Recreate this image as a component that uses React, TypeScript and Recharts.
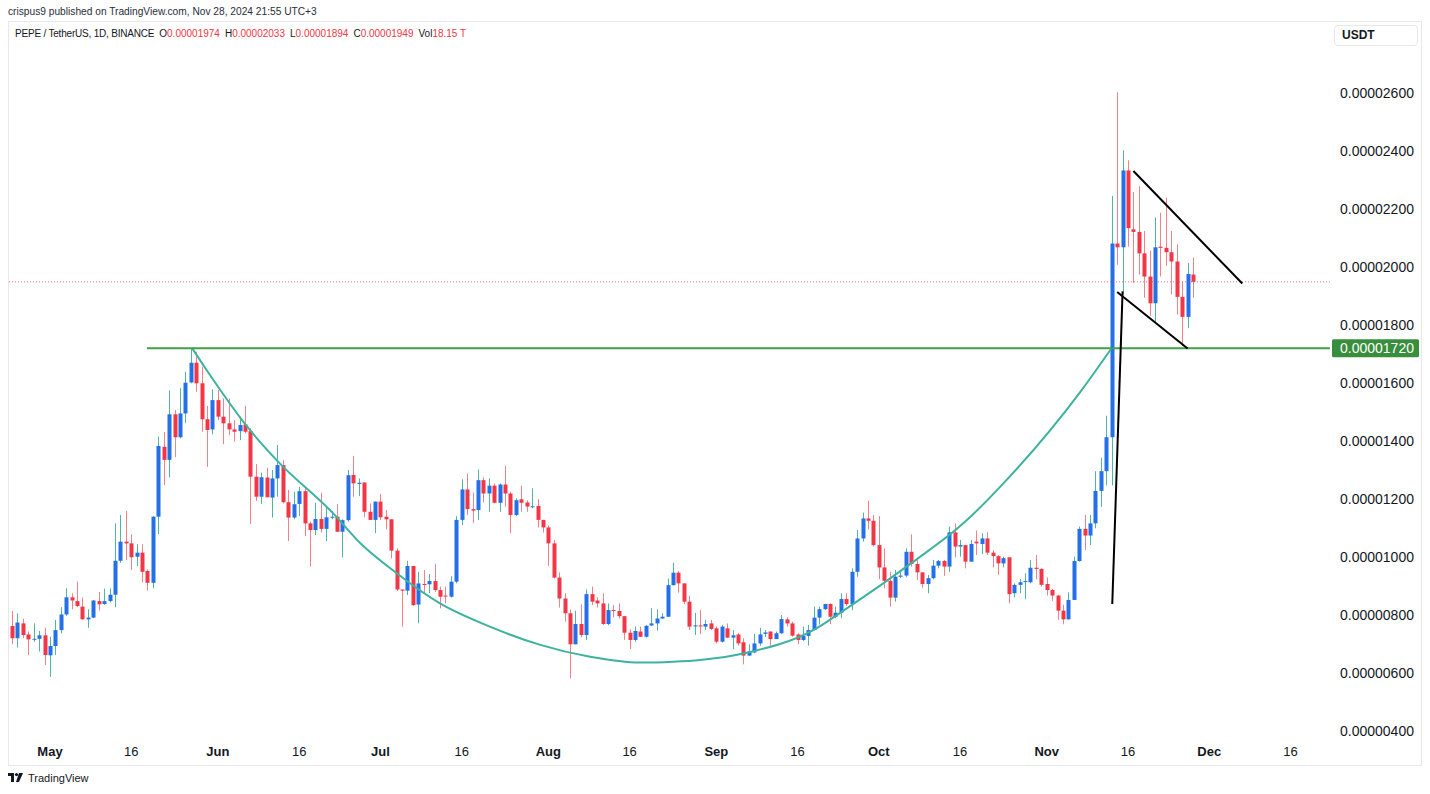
import React from 'react';
import { ComposedChart, Bar, Line, XAxis, YAxis, ReferenceLine } from 'recharts';

// prices are in millionths of a USDT (7.62 = 0.00000762)
// day numbers count from May 1, 2024 (day 0); first candle is Apr 24
const FIRST_DAY = -7;

const OPEN = [
  7.62, 7.20, 7.71, 7.33, 7.16, 7.18, 7.30, 6.61, 6.93, 7.48,
  8.02, 8.61, 8.48, 8.29, 7.85, 7.91, 8.48, 8.38, 8.48, 8.70,
  9.87, 10.53, 10.47, 10.01, 10.15, 9.52, 9.11, 11.39, 13.80, 13.35,
  14.92, 14.13, 14.95, 16.02, 16.70, 15.99, 14.75, 14.40, 15.41, 14.84,
  14.61, 14.40, 14.34, 14.57, 14.34, 12.77, 12.08, 12.74, 12.05, 12.71,
  13.17, 11.89, 11.36, 11.83, 12.27, 11.16, 10.93, 11.31, 10.97, 11.37,
  11.39, 10.87, 11.27, 12.83, 12.52, 12.57, 11.56, 11.28, 11.91, 11.39,
  11.30, 10.22, 8.88, 8.84, 9.69, 8.36, 9.07, 9.06, 9.17, 8.86,
  8.67, 8.63, 9.15, 11.28, 12.33, 11.65, 11.62, 12.65, 12.19, 12.46,
  11.87, 12.50, 12.19, 11.45, 11.99, 11.88, 11.74, 11.76, 11.28, 11.02,
  10.47, 9.29, 8.57, 8.06, 6.99, 7.69, 7.31, 8.72, 8.50, 8.40,
  7.69, 8.17, 8.14, 7.96, 7.39, 7.14, 7.43, 7.25, 7.64, 7.71,
  7.88, 7.94, 9.03, 9.46, 9.09, 8.46, 7.62, 7.64, 7.60, 7.71,
  7.54, 7.08, 7.54, 7.22, 7.33, 7.06, 6.60, 6.71, 7.02, 7.35,
  7.43, 7.17, 7.37, 7.85, 7.71, 7.33, 7.14, 7.28, 7.48, 7.91,
  8.20, 8.38, 7.94, 8.08, 8.55, 8.38, 9.49, 10.64, 11.33, 11.25,
  10.41, 9.64, 9.18, 8.60, 9.32, 9.36, 10.18, 9.76, 9.47, 9.07,
  9.27, 9.70, 9.86, 9.67, 10.85, 10.36, 10.41, 9.84, 10.53, 10.45,
  10.64, 10.15, 10.03, 9.78, 9.99, 8.75, 9.04, 9.15, 9.13, 9.63,
  9.59, 9.07, 8.86, 8.67, 8.15, 7.85, 8.52, 9.86, 10.97, 10.74,
  11.16, 12.28, 12.96, 14.13, 20.81, 20.68, 23.33, 21.30, 21.21, 20.47,
  19.67, 18.75, 20.70, 20.66, 20.51, 20.19, 18.97, 18.28, 19.74,
];

const HIGH = [
  8.14, 8.06, 7.87, 7.43, 7.71, 7.45, 7.56, 7.25, 7.83, 8.27,
  8.92, 8.75, 9.15, 8.60, 8.20, 8.52, 8.79, 8.91, 8.92, 11.16,
  11.45, 11.59, 10.78, 10.44, 10.44, 9.57, 11.41, 14.15, 14.31, 15.74,
  15.07, 15.82, 16.39, 17.20, 17.08, 16.56, 15.21, 15.78, 15.76, 15.47,
  15.47, 14.72, 14.84, 15.21, 14.44, 13.21, 12.91, 13.08, 13.00, 13.86,
  13.35, 12.31, 12.25, 12.42, 12.40, 11.22, 11.87, 12.22, 11.74, 11.59,
  11.82, 11.30, 13.00, 13.48, 12.71, 12.57, 11.85, 11.91, 12.17, 11.62,
  11.30, 10.30, 8.88, 9.87, 9.69, 9.49, 9.55, 9.41, 9.76, 8.98,
  8.98, 9.34, 11.41, 12.68, 12.88, 12.22, 13.02, 12.75, 12.71, 12.54,
  12.54, 13.14, 12.25, 12.02, 12.46, 11.96, 12.37, 11.99, 11.28, 11.08,
  10.59, 9.47, 8.75, 8.19, 8.15, 8.37, 8.88, 8.98, 8.61, 8.75,
  8.40, 8.34, 8.40, 7.96, 7.51, 7.60, 7.60, 7.65, 8.23, 8.19,
  8.06, 9.26, 9.80, 9.52, 9.09, 8.66, 8.07, 8.17, 7.83, 7.83,
  7.60, 7.66, 7.71, 7.48, 7.37, 7.20, 6.99, 7.35, 7.56, 7.48,
  7.43, 7.43, 8.00, 7.92, 7.77, 7.37, 7.60, 7.66, 8.29, 8.29,
  8.38, 8.40, 8.29, 8.75, 8.75, 9.61, 10.93, 11.53, 11.94, 11.45,
  11.41, 10.30, 9.49, 9.55, 9.55, 10.30, 10.78, 9.90, 9.47, 9.38,
  9.90, 9.90, 9.90, 11.05, 11.16, 10.59, 10.41, 10.59, 10.91, 10.82,
  10.85, 10.24, 10.07, 10.01, 9.99, 9.09, 9.24, 9.44, 9.90, 10.07,
  9.61, 9.30, 8.90, 8.69, 8.35, 8.78, 10.01, 11.05, 11.45, 11.45,
  12.96, 13.42, 14.87, 22.45, 26.02, 24.02, 23.68, 22.59, 22.79, 21.24,
  20.57, 21.71, 21.87, 22.39, 21.24, 20.78, 19.49, 20.14, 20.33,
];

const LOW = [
  7.00, 6.88, 7.20, 6.62, 7.08, 6.74, 6.28, 5.87, 6.62, 7.37,
  7.97, 8.20, 8.27, 7.85, 7.56, 7.89, 8.15, 8.35, 8.43, 8.27,
  9.80, 9.90, 9.55, 9.69, 9.13, 8.84, 8.92, 10.79, 12.48, 12.75,
  13.44, 14.09, 14.61, 15.99, 15.70, 14.32, 13.11, 14.23, 14.72, 13.89,
  14.21, 13.98, 14.03, 14.26, 11.14, 11.93, 11.83, 12.06, 11.36, 12.08,
  11.85, 10.55, 11.30, 11.41, 10.72, 9.67, 10.76, 10.85, 10.55, 11.30,
  10.87, 9.99, 11.22, 12.08, 12.10, 11.37, 11.28, 10.82, 11.28, 10.95,
  9.95, 8.83, 7.60, 8.69, 8.32, 7.71, 8.72, 8.75, 8.80, 8.23,
  8.40, 8.60, 9.09, 11.10, 11.45, 11.18, 11.28, 11.88, 11.56, 11.85,
  11.56, 11.74, 10.82, 11.41, 11.56, 11.56, 11.68, 11.02, 10.84, 9.69,
  9.26, 8.26, 7.77, 5.82, 6.99, 7.23, 7.14, 8.34, 8.26, 7.65,
  7.65, 7.92, 7.88, 7.14, 6.83, 7.08, 7.25, 7.22, 7.62, 7.46,
  7.86, 7.94, 9.01, 8.77, 8.38, 7.48, 7.31, 7.35, 7.48, 7.48,
  7.02, 7.05, 7.20, 6.82, 6.94, 6.30, 6.60, 6.68, 6.94, 7.25,
  6.94, 7.17, 7.35, 7.60, 7.25, 7.00, 7.10, 6.94, 7.48, 7.68,
  8.17, 7.69, 7.89, 7.89, 8.31, 8.17, 9.32, 10.53, 10.95, 10.36,
  9.24, 8.92, 8.29, 8.46, 9.27, 9.30, 9.67, 9.21, 8.94, 8.75,
  9.23, 9.61, 9.35, 9.49, 9.99, 10.01, 9.61, 9.84, 10.07, 10.10,
  10.07, 9.64, 9.38, 9.64, 8.40, 8.61, 8.75, 8.54, 9.09, 9.23,
  8.98, 8.67, 8.49, 7.83, 7.68, 7.85, 8.52, 9.84, 10.24, 10.41,
  10.99, 11.73, 12.47, 12.47, 20.08, 19.08, 20.70, 19.45, 19.74, 18.94,
  18.32, 18.07, 19.67, 20.04, 19.06, 18.36, 17.27, 17.89, 18.94,
];

const CLOSE = [
  7.20, 7.74, 7.31, 7.16, 7.18, 7.30, 6.62, 6.93, 7.48, 8.02,
  8.61, 8.50, 8.31, 7.85, 7.91, 8.50, 8.37, 8.48, 8.70, 9.87,
  10.53, 10.47, 9.99, 10.15, 9.49, 9.11, 11.39, 13.83, 13.35, 14.92,
  14.13, 14.95, 16.01, 16.70, 15.99, 14.75, 14.38, 15.41, 14.84, 14.61,
  14.40, 14.32, 14.55, 14.32, 12.77, 12.08, 12.75, 12.06, 12.71, 13.17,
  11.89, 11.36, 11.82, 12.27, 11.16, 10.93, 11.31, 10.97, 11.37, 11.39,
  10.87, 11.27, 12.82, 12.54, 12.56, 11.56, 11.28, 11.91, 11.37, 11.30,
  10.22, 8.88, 8.84, 9.69, 8.34, 9.09, 9.05, 9.17, 8.86, 8.63,
  8.66, 9.15, 11.28, 12.33, 11.65, 11.60, 12.65, 12.19, 12.46, 11.87,
  12.50, 12.19, 11.45, 11.96, 11.87, 11.74, 11.75, 11.28, 11.02, 10.47,
  9.29, 8.57, 8.06, 6.99, 7.69, 7.31, 8.72, 8.46, 8.40, 7.69,
  8.17, 8.14, 7.96, 7.39, 7.14, 7.45, 7.25, 7.63, 7.71, 7.88,
  7.94, 9.03, 9.46, 9.09, 8.46, 7.60, 7.64, 7.62, 7.69, 7.52,
  7.08, 7.60, 7.22, 7.30, 7.02, 6.60, 6.74, 7.02, 7.33, 7.40,
  7.17, 7.37, 7.86, 7.71, 7.29, 7.14, 7.28, 7.48, 7.91, 8.20,
  8.38, 7.94, 8.08, 8.55, 8.38, 9.49, 10.64, 11.33, 11.25, 10.41,
  9.64, 9.18, 8.60, 9.32, 9.36, 10.18, 9.76, 9.47, 9.07, 9.27,
  9.70, 9.86, 9.67, 10.85, 10.36, 10.41, 9.84, 10.45, 10.47, 10.64,
  10.15, 10.03, 9.78, 9.96, 8.72, 9.04, 9.13, 9.17, 9.63, 9.59,
  9.04, 8.86, 8.67, 8.15, 7.85, 8.52, 9.86, 10.97, 10.74, 11.16,
  12.28, 12.96, 14.13, 20.81, 20.68, 23.33, 21.34, 21.21, 20.47, 19.67,
  18.75, 20.68, 20.66, 20.51, 20.19, 18.97, 18.28, 19.76, 19.49,
];

// hand-drawn cup curve (day, price)
const CUP_DAYS = [26.2, 28.9, 36.9, 42.1, 52.2, 57.2, 64.0, 72.0, 81.2, 90.5, 99.7, 108.9, 115.0, 120.0, 128.6, 140.9, 147.1, 159.4, 168.6, 176.6, 190.1, 196.0];
const CUP_PRICES = [17.21, 16.45, 14.38, 13.29, 11.52, 10.49, 9.44, 8.40, 7.60, 6.97, 6.56, 6.36, 6.39, 6.45, 6.70, 7.48, 8.23, 9.84, 11.16, 12.66, 15.67, 17.21];

// flag drawing: [startDay, startPrice, endDay, endPrice]
const POLE = [196.1, 8.38, 198.0, 19.16];
const FLAG_LOW = [197.0, 19.14, 210.0, 17.19];
const FLAG_HIGH = [200.0, 23.31, 220.1, 19.43];
const BREAKOUT = 17.2;
const BREAKOUT_START = 17.9;
const LAST_PRICE = 19.49;

const X_DOMAIN = [-7.753, 236.29];
const Y_DOMAIN = [3.69, 28.483];
const X_TICKS = [0, 15, 31, 46, 61, 76, 92, 107, 123, 138, 153, 168, 184, 199, 214, 229];
const X_LABELS = ['May', '16', 'Jun', '16', 'Jul', '16', 'Aug', '16', 'Sep', '16', 'Oct', '16', 'Nov', '16', 'Dec', '16'];
const Y_TICKS = [4, 6, 8, 10, 12, 14, 16, 17.2, 18, 20, 22, 24, 26];

const FONT = '"Liberation Sans", Arial, Helvetica, sans-serif';
const UP = '#2370E8';
const DOWN = '#F23645';
const UP_WICK = '#4DB6A8';
const DOWN_WICK = '#F6808A';
const TEXT = '#131722';

const candles = OPEN.map((o, i) => ({
  d: FIRST_DAY + i,
  o,
  h: HIGH[i],
  l: LOW[i],
  c: CLOSE[i],
  range: [LOW[i], HIGH[i]],
}));

const cup = CUP_DAYS.map((d, i) => ({ d, p: CUP_PRICES[i] }));

const Candle = (props: any) => {
  const { x, y, width, height, payload } = props;
  if (x == null || y == null || !payload) return null;
  const { o, h, l, c } = payload;
  const yTop = Math.min(y, y + height);
  const yBot = Math.max(y, y + height);
  const k = h - l > 0 ? (yBot - yTop) / (h - l) : 0;
  const py = (v: number) => yTop + (h - v) * k;
  const up = c >= o;
  const cx = Math.round(x + width / 2) + 0.5;
  const bTop = py(Math.max(o, c));
  const bBot = py(Math.min(o, c));
  return (
    <g>
      <line x1={cx} x2={cx} y1={yTop} y2={yBot} stroke={up ? UP_WICK : DOWN_WICK} strokeWidth={1} />
      <rect x={cx - 2} y={bTop} width={4} height={Math.max(bBot - bTop, 1)} fill={up ? UP : DOWN} />
    </g>
  );
};

const TimeTick = (props: any) => {
  const { x, y, payload } = props;
  const label = X_LABELS[X_TICKS.indexOf(payload.value)];
  return (
    <text x={x} y={y + 11} textAnchor="middle" dominantBaseline="central" fontSize={13}
      fontWeight={label === '16' ? 400 : 700} fill={TEXT} fontFamily={FONT}>
      {label}
    </text>
  );
};

const PriceTick = (props: any) => {
  const { x, y, payload } = props;
  const v = payload.value;
  const label = (v / 1e6).toFixed(8);
  if (v === BREAKOUT) {
    return (
      <g>
        <rect x={x + 2} y={y - 9} width={87} height={18} rx={1.5} fill="#388E3C" />
        <text x={x + 10} y={y} dominantBaseline="central" fontSize={14} fill="#fff" fontFamily={FONT}>{label}</text>
      </g>
    );
  }
  return (
    <text x={x + 10} y={y} dominantBaseline="central" fontSize={14} fill={TEXT} fontFamily={FONT}>{label}</text>
  );
};

const seg = (s: number[]) => [{ x: s[0], y: s[1] }, { x: s[2], y: s[3] }];

const LegendValue = ({ k, v }: { k: string; v: string }) => (
  <span style={{ marginLeft: 5 }}>
    <span style={{ color: TEXT }}>{k}</span>
    <span style={{ color: DOWN }}>{v}</span>
  </span>
);

export default function App() {
  return (
    <div style={{ position: 'absolute', left: 0, top: 0, width: 1430, height: 794, background: '#fff', fontFamily: FONT, overflow: 'hidden' }}>
      <div style={{ position: 'absolute', left: 8, top: 6, fontSize: 10.2, color: '#2A2E39', whiteSpace: 'nowrap' }}>
        crispus9 published on TradingView.com, Nov 28, 2024 21:55 UTC+3
      </div>
      <div style={{ position: 'absolute', left: 8, top: 21, width: 1414, height: 745, border: '1px solid #E6E8EE', boxSizing: 'border-box' }} />
      <div style={{ position: 'absolute', left: 8, top: 21 }}>
        <ComposedChart width={1413} height={744} data={candles} margin={{ top: 0, right: 0, bottom: 0, left: 0 }}>
          <XAxis dataKey="d" type="number" domain={X_DOMAIN} allowDataOverflow ticks={X_TICKS} interval={0}
            axisLine={false} tickLine={false} tickSize={0} tickMargin={0} height={25} tick={<TimeTick />} />
          <YAxis orientation="right" type="number" domain={Y_DOMAIN} allowDataOverflow ticks={Y_TICKS} interval={0}
            axisLine={false} tickLine={false} tickSize={0} tickMargin={0} width={91} tick={<PriceTick />} />
          <ReferenceLine y={LAST_PRICE} stroke="#F23645" strokeOpacity={0.7} strokeDasharray="1 2" />
          <Bar dataKey="range" barSize={4} shape={<Candle />} isAnimationActive={false} />
          <Line data={cup} dataKey="p" type="monotone" stroke="#3DB39E" strokeWidth={2} dot={false} activeDot={false} isAnimationActive={false} />
          <ReferenceLine segment={[{ x: BREAKOUT_START, y: BREAKOUT }, { x: X_DOMAIN[1], y: BREAKOUT }]} stroke="#43A047" strokeWidth={2} />
          <ReferenceLine segment={seg(POLE)} stroke="#000" strokeWidth={2} />
          <ReferenceLine segment={seg(FLAG_LOW)} stroke="#000" strokeWidth={2} />
          <ReferenceLine segment={seg(FLAG_HIGH)} stroke="#000" strokeWidth={2} />
        </ComposedChart>
      </div>
      <div style={{ position: 'absolute', left: 15, top: 28, fontSize: 10, color: TEXT, whiteSpace: 'nowrap' }}>
        <span style={{ letterSpacing: -0.2 }}>PEPE / TetherUS, 1D, BINANCE</span>
        <LegendValue k="O" v="0.00001974" />
        <LegendValue k="H" v="0.00002033" />
        <LegendValue k="L" v="0.00001894" />
        <LegendValue k="C" v="0.00001949" />
        <LegendValue k="Vol" v="18.15 T" />
      </div>
      <div style={{ position: 'absolute', left: 1334, top: 25, width: 84, height: 21, border: '1px solid #E6E8EE', borderRadius: 4, boxSizing: 'border-box', fontSize: 12, fontWeight: 700, color: TEXT, paddingLeft: 7, lineHeight: '19px', background: '#fff' }}>
        USDT
      </div>
      <div style={{ position: 'absolute', left: 8, top: 772, display: 'flex', alignItems: 'center', gap: 4 }}>
        <svg width={16} height={10} viewBox="0 0 16 10">
          <rect x={0} y={0} width={6} height={3} fill={TEXT} />
          <rect x={3} y={0} width={3} height={9} fill={TEXT} />
          <circle cx={8.5} cy={1.6} r={1.6} fill={TEXT} />
          <polygon points="11,0 15,0 11,9 8,9" fill={TEXT} />
        </svg>
        <span style={{ fontSize: 11, color: TEXT }}>TradingView</span>
      </div>
    </div>
  );
}
